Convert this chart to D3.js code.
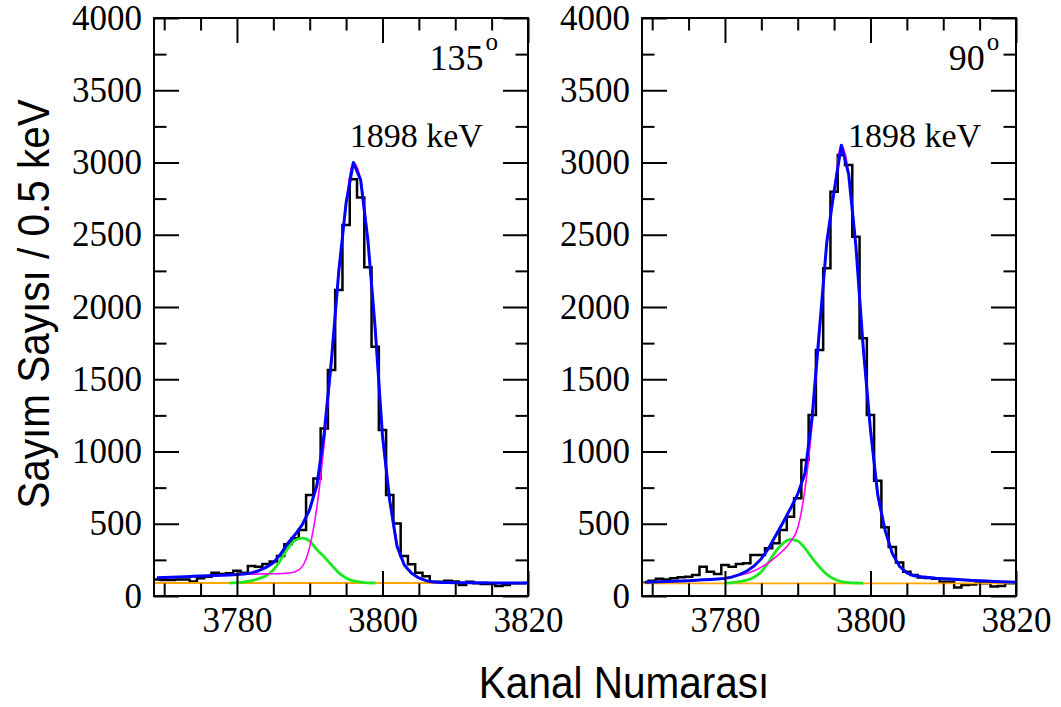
<!DOCTYPE html>
<html>
<head>
<meta charset="utf-8">
<script src="https://cdn.jsdelivr.net/npm/d3@7"></script>
<style>
  body { margin: 0; background: #fff; }
  svg { display: block; background: #fff; }
  .axis text { font-family: "Liberation Serif", "Times New Roman", Times, serif; }
</style>
</head>
<body>
<svg id="chart" width="1061" height="707"></svg>
<script>
// Channel numbers shared by both spectra (1 channel = 0.5 keV)
const channels = [3769, 3770, 3771, 3772, 3773, 3774, 3775, 3776, 3777, 3778,
  3779, 3780, 3781, 3782, 3783, 3784, 3785, 3786, 3787, 3788,
  3789, 3790, 3791, 3792, 3793, 3794, 3795, 3796, 3797, 3798,
  3799, 3800, 3801, 3802, 3803, 3804, 3805, 3806, 3807, 3808,
  3809, 3810, 3811, 3812, 3813, 3814, 3815, 3816, 3817, 3818,
  3819, 3820];

// 135 degree detector
const counts135 = [115, 111, 111, 115, 115, 100, 122, 134, 161, 152,
  157, 175, 161, 208, 203, 221, 238, 277, 358, 399,
  457, 699, 814, 1160, 1564, 2118, 2567, 2884, 2757, 2275,
  1725, 1149, 699, 502, 277, 220, 161, 136, 99, 99,
  106, 100, 76, 99, 88, 83, 83, 69, 76, 88,
  88, 90];
const fitTotal135 = [126, 128, 130, 132, 134, 136, 138, 140, 142, 144,
  146, 148, 152, 160, 175, 198, 230, 290, 365, 425,
  495, 600, 770, 1130, 1640, 2250, 2720, 3000, 2880, 2460,
  1850, 1110, 660, 345, 215, 158, 125, 106, 97, 94,
  93, 92, 92, 91, 91, 91, 90, 90, 90, 90,
  90, 90];
const fitMain135 = [126, 128, 130, 132, 134, 136, 138, 140, 142, 144,
  146, 148, 150, 151, 152, 153, 154, 155, 158, 168,
  205, 340, 620, 1060, 1610, 2240, 2715, 3000, 2880, 2460,
  1850, 1110, 660, 345, 215, 158, 125, 106, 97, 94,
  93, 92, 92, 91, 91, 91, 90, 90, 90, 90,
  90, 90];
const smallChannels135 = [3779, 3780, 3781, 3782, 3783, 3784, 3785, 3786, 3787, 3788,
  3789, 3790, 3791, 3792, 3793, 3794, 3795, 3796, 3797, 3798, 3799];
const fitSmall135 = [90, 92, 97, 106, 120, 140, 180, 250, 330, 385,
  400, 380, 320, 270, 215, 160, 125, 105, 96, 91, 90];
const background135 = 90;

// 90 degree detector
const counts90 = [92, 105, 120, 115, 122, 129, 134, 145, 203, 168,
  152, 215, 203, 221, 226, 284, 284, 330, 365, 457,
  549, 676, 941, 1253, 1702, 2268, 2798, 3052, 2983, 2487,
  1783, 1253, 797, 476, 339, 232, 168, 145, 128, 125,
  120, 99, 99, 58, 76, 80, 88, 88, 65, 69,
  88, 88];
const fitTotal90 = [95, 97, 99, 100, 102, 104, 106, 109, 112, 115,
  118, 122, 132, 148, 172, 208, 258, 330, 420, 510,
  605, 705, 850, 1250, 1850, 2450, 2800, 3120, 2920, 2420,
  1720, 1150, 700, 457, 295, 205, 160, 140, 133, 128,
  123, 120, 117, 114, 111, 108, 106, 104, 101, 99,
  97, 95];
const fitMain90 = [95, 97, 99, 100, 102, 104, 106, 109, 112, 115,
  118, 122, 132, 145, 155, 175, 200, 230, 270, 315,
  375, 470, 740, 1200, 1830, 2445, 2800, 3120, 2920, 2420,
  1720, 1150, 700, 457, 295, 205, 160, 140, 133, 128,
  123, 120, 117, 114, 111, 108, 106, 104, 101, 99,
  97, 95];
const smallChannels90 = [3780, 3781, 3782, 3783, 3784, 3785, 3786, 3787, 3788, 3789,
  3790, 3791, 3792, 3793, 3794, 3795, 3796, 3797, 3798, 3799];
const fitSmall90 = [90, 93, 100, 110, 130, 168, 235, 310, 365, 392,
  380, 330, 262, 200, 150, 118, 100, 93, 90, 89];
const background90 = 88;

// Axis ticks
const xMajorTicks = [3780, 3800, 3820];
const xMinorTicks = [3770, 3775, 3785, 3790, 3795, 3805, 3810, 3815];
const yMajorTicks = [0, 500, 1000, 1500, 2000, 2500, 3000, 3500, 4000];
const yMinorTicks = [250, 750, 1250, 1750, 2250, 2750, 3250, 3750];

const peakLabel = '1898 keV';
const yTitle = 'Sayım Sayısı / 0.5 keV';
const xTitle = 'Kanal Numarası';

const svg = d3.select('#chart');
const serif = '"Liberation Serif", "Times New Roman", Times, serif';
const sans = '"Liberation Sans", Arial, Helvetica, sans-serif';

const plotW = 374;
const plotH = 578;
const x = d3.scaleLinear().domain([3768.6, 3820]).range([0, plotW]);
const y = d3.scaleLinear().domain([0, 4000]).range([plotH, 0]);

const line = d3.line().x(d => x(d[0])).y(d => y(d[1]));
const smooth = d3.line().curve(d3.curveMonotoneX).x(d => x(d[0])).y(d => y(d[1]));

function drawPanel(left, top, name, p) {
    const g = svg.append('g').attr('transform', `translate(${left},${top})`);

    g.append('clipPath').attr('id', 'clip-' + name)
        .append('rect').attr('width', plotW).attr('height', plotH);

    const plot = g.append('g').attr('clip-path', `url(#clip-${name})`);

    // histogram as steps, one bin per channel
    const steps = [];
    channels.forEach((c, i) => {
        steps.push([c - 0.5, p.counts[i]]);
        steps.push([c + 0.5, p.counts[i]]);
    });
    plot.append('path')
        .attr('d', line(steps))
        .attr('fill', 'none')
        .attr('stroke', '#000')
        .attr('stroke-width', 2.5);

    // flat background
    plot.append('path')
        .attr('d', line([[x.domain()[0], p.bg], [x.domain()[1], p.bg]]))
        .attr('fill', 'none')
        .attr('stroke', '#ffa500')
        .attr('stroke-width', 1.8);

    // small gaussian
    plot.append('path')
        .attr('d', smooth(p.smallCh.map((c, i) => [c, p.small[i]])))
        .attr('fill', 'none')
        .attr('stroke', '#1ee81e')
        .attr('stroke-width', 2.8);

    // main peak
    plot.append('path')
        .attr('d', smooth(channels.map((c, i) => [c, p.main[i]])))
        .attr('fill', 'none')
        .attr('stroke', '#ff00ff')
        .attr('stroke-width', 1.6);

    // total fit
    plot.append('path')
        .attr('d', line(channels.map((c, i) => [c, p.total[i]])))
        .attr('fill', 'none')
        .attr('stroke', '#0000ff')
        .attr('stroke-width', 3)
        .attr('stroke-linejoin', 'round');

    // ticks, all pointing inward
    g.append('g').attr('class', 'axis').attr('transform', `translate(0,${plotH})`)
        .call(d3.axisBottom(x).tickValues(xMajorTicks).tickSize(-25).tickSizeOuter(0)
            .tickPadding(11).tickFormat(d3.format('d')));
    g.append('g').attr('class', 'axis').attr('transform', `translate(0,${plotH})`)
        .call(d3.axisBottom(x).tickValues(xMinorTicks).tickSize(-12.5).tickSizeOuter(0).tickFormat(''));
    g.append('g').attr('class', 'axis')
        .call(d3.axisTop(x).tickValues(xMajorTicks).tickSize(-25).tickSizeOuter(0).tickFormat(''));
    g.append('g').attr('class', 'axis')
        .call(d3.axisTop(x).tickValues(xMinorTicks).tickSize(-12.5).tickSizeOuter(0).tickFormat(''));
    g.append('g').attr('class', 'axis')
        .call(d3.axisLeft(y).tickValues(yMajorTicks).tickSize(-25).tickSizeOuter(0)
            .tickPadding(12).tickFormat(d3.format('d')));
    g.append('g').attr('class', 'axis')
        .call(d3.axisLeft(y).tickValues(yMinorTicks).tickSize(-12.5).tickSizeOuter(0).tickFormat(''));
    g.append('g').attr('class', 'axis').attr('transform', `translate(${plotW},0)`)
        .call(d3.axisRight(y).tickValues(yMajorTicks).tickSize(-25).tickSizeOuter(0).tickFormat(''));
    g.append('g').attr('class', 'axis').attr('transform', `translate(${plotW},0)`)
        .call(d3.axisRight(y).tickValues(yMinorTicks).tickSize(-12.5).tickSizeOuter(0).tickFormat(''));

    g.selectAll('.axis').attr('font-family', serif).attr('font-size', 35);
    g.selectAll('.axis .domain').remove();
    g.selectAll('.axis line').attr('stroke', '#000').attr('stroke-width', 2);
    g.selectAll('.axis text')
        .style('font-family', serif)
        .style('font-size', '35px')
        .attr('fill', '#000');

    // frame
    g.append('rect')
        .attr('width', plotW).attr('height', plotH)
        .attr('fill', 'none').attr('stroke', '#000').attr('stroke-width', 2);

    // peak label
    g.append('text')
        .attr('x', x(p.peakLabelAt[0])).attr('y', y(p.peakLabelAt[1]))
        .style('font-family', serif).style('font-size', '34px')
        .text(peakLabel);

    // angle label with superscript o
    g.append('text')
        .attr('x', x(p.angleAt[0])).attr('y', y(p.angleAt[1]))
        .attr('text-anchor', 'end')
        .style('font-family', serif).style('font-size', '36px')
        .text(p.angle);
    g.append('text')
        .attr('x', x(p.angleAt[0]) + 2).attr('y', y(p.angleAt[1]) - 20)
        .style('font-family', serif).style('font-size', '25px')
        .text('o');
}

drawPanel(154, 18, 'a', {
    counts: counts135, total: fitTotal135, main: fitMain135,
    smallCh: smallChannels135, small: fitSmall135, bg: background135,
    angle: '135', angleAt: [3813.9, 3640], peakLabelAt: [3795.5, 3110]
});
drawPanel(642, 18, 'b', {
    counts: counts90, total: fitTotal90, main: fitMain90,
    smallCh: smallChannels90, small: fitSmall90, bg: background90,
    angle: '90', angleAt: [3815.7, 3640], peakLabelAt: [3796.9, 3110]
});

// axis titles (the original lettering is slightly narrow and tall)
svg.append('text')
    .attr('transform', 'translate(49,304) rotate(-90) scale(0.9,1)')
    .attr('text-anchor', 'middle')
    .style('font-family', sans).style('font-size', '45px')
    .text(yTitle);

svg.append('text')
    .attr('transform', 'translate(624,698) scale(0.9,1)')
    .attr('text-anchor', 'middle')
    .style('font-family', sans).style('font-size', '45px')
    .text(xTitle);
</script>
</body>
</html>
